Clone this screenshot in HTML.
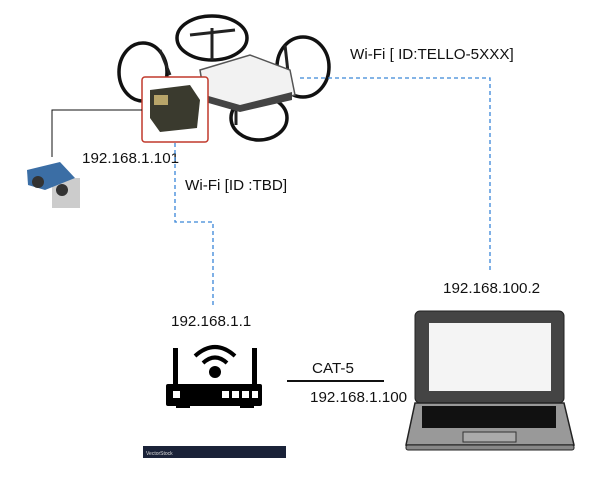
<!DOCTYPE html>
<html><head><meta charset="utf-8"><style>
html,body{margin:0;padding:0;background:#fff;}
svg text{font-family:"Liberation Sans",sans-serif;font-size:15.2px;fill:#111;}
</style></head><body>
<svg width="600" height="480" viewBox="0 0 600 480" xmlns="http://www.w3.org/2000/svg">
<!-- drone guards -->
<g fill="none" stroke="#111" stroke-width="3.5">
<ellipse cx="212" cy="38" rx="35" ry="22"/>
<ellipse cx="143" cy="72" rx="24" ry="29"/>
<ellipse cx="303" cy="67" rx="26" ry="30"/>
<ellipse cx="259" cy="118" rx="28" ry="22"/>
</g>
<g stroke="#222" stroke-width="3">
<line x1="212" y1="28" x2="212" y2="60"/><line x1="190" y1="35" x2="235" y2="30"/>
<line x1="160" y1="50" x2="170" y2="75"/><line x1="285" y1="45" x2="290" y2="90"/>
<line x1="240" y1="105" x2="280" y2="100"/><line x1="236" y1="95" x2="236" y2="125"/>
</g>
<polygon points="200,70 250,55 290,70 295,95 240,110 205,100" fill="#f2f2f2" stroke="#555" stroke-width="1.5"/>
<polygon points="205,95 240,105 292,92 292,100 240,112 205,102" fill="#444"/>
<!-- ESP box -->
<rect x="142" y="77" width="66" height="65" rx="3" fill="#fff" stroke="#c0392b" stroke-width="1.5"/>
<polygon points="150,90 190,85 200,100 197,128 160,132 150,118" fill="#3a3a2e"/>
<rect x="154" y="95" width="14" height="10" fill="#b8a56a"/>
<!-- sensor line -->
<polyline points="142,110 52,110 52,157" fill="none" stroke="#111" stroke-width="1"/>
<rect x="52" y="178" width="28" height="30" fill="#ccc"/>
<polygon points="27,170 60,162 75,178 45,190 28,185" fill="#3b6ea5"/>
<circle cx="38" cy="182" r="6" fill="#333"/><circle cx="62" cy="190" r="6" fill="#333"/>
<text x="82" y="163">192.168.1.101</text>
<text x="185" y="190">Wi-Fi [ID :TBD]</text>
<text x="350" y="59">Wi-Fi [ ID:TELLO-5XXX]</text>
<!-- dashed blue -->
<g fill="none" stroke="#3a86d8" stroke-width="1.3" stroke-dasharray="4,3">
<polyline points="175,143 175,222 213,222 213,305"/>
<polyline points="300,78 490,78 490,272"/>
</g>
<text x="443" y="293">192.168.100.2</text>
<text x="171" y="326">192.168.1.1</text>
<!-- router -->
<g fill="#000">
<rect x="173" y="348" width="5" height="38"/><rect x="252" y="348" width="5" height="38"/>
<rect x="166" y="384" width="96" height="22" rx="2"/>
<rect x="176" y="405" width="14" height="3"/><rect x="240" y="405" width="14" height="3"/>
<circle cx="215" cy="372" r="6"/>
</g>
<rect x="173" y="391" width="7" height="7" fill="#fff"/>
<rect x="222" y="391" width="7" height="7" fill="#fff"/><rect x="232" y="391" width="7" height="7" fill="#fff"/>
<rect x="242" y="391" width="7" height="7" fill="#fff"/><rect x="252" y="391" width="6" height="7" fill="#fff"/>
<g fill="none" stroke="#000" stroke-width="4">
<path d="M195,356 Q215,338 235,356"/><path d="M203,363 Q215,352 227,363"/>
</g>
<rect x="143" y="446" width="143" height="12" fill="#1a2238"/>
<text x="146" y="455" style="font-size:5px;fill:#ddd">VectorStock</text>
<!-- CAT-5 -->
<text x="312" y="373">CAT-5</text>
<line x1="287" y1="381" x2="384" y2="381" stroke="#111" stroke-width="2"/>
<text x="310" y="402">192.168.1.100</text>
<!-- laptop -->
<rect x="415" y="311" width="149" height="92" rx="5" fill="#444" stroke="#222" stroke-width="1"/>
<rect x="429" y="323" width="122" height="68" fill="#f4f4f4"/>
<polygon points="415,403 564,403 574,445 406,445" fill="#999" stroke="#222" stroke-width="1.5"/>
<rect x="406" y="445" width="168" height="5" rx="2" fill="#888" stroke="#222"/>
<rect x="422" y="406" width="134" height="22" fill="#111"/>
<rect x="463" y="432" width="53" height="10" fill="#aaa" stroke="#333"/>
</svg>
</body></html>
